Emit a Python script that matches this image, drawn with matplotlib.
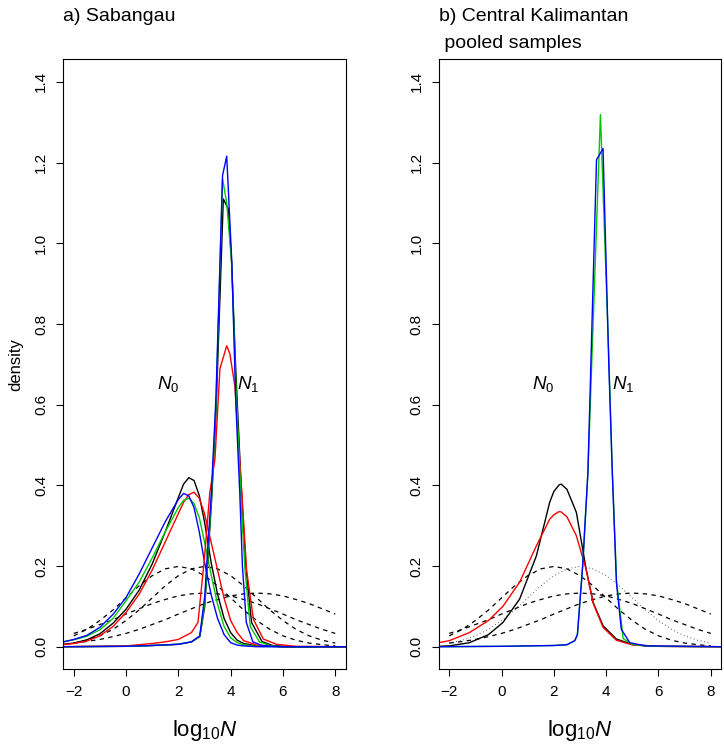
import matplotlib
matplotlib.use("Agg")
import matplotlib.pyplot as plt

plt.rcParams['font.family'] = ['Liberation Sans', 'DejaVu Sans']
plt.rcParams['mathtext.fontset'] = 'custom'
plt.rcParams['mathtext.rm'] = 'Liberation Sans'
plt.rcParams['mathtext.it'] = 'Liberation Sans:italic'

## prior densities (dashed), read at 0.5 steps
prior_x = [-2, -1.5, -1, -0.5, 0, 0.5, 1, 1.5, 2, 2.5, 3, 3.5, 4, 4.5, 5, 5.5, 6, 6.5, 7, 7.5, 8]
prior_a = [0.027, 0.043, 0.065, 0.091, 0.121, 0.151, 0.176, 0.193, 0.199, 0.193, 0.176,
           0.151, 0.121, 0.091, 0.065, 0.043, 0.027, 0.016, 0.009, 0.005, 0.002]
prior_b = [0.009, 0.016, 0.027, 0.043, 0.065, 0.091, 0.121, 0.151, 0.176, 0.193, 0.199,
           0.193, 0.176, 0.151, 0.121, 0.091, 0.065, 0.043, 0.027, 0.016, 0.009]
prior_c = [0.033, 0.043, 0.055, 0.067, 0.081, 0.094, 0.107, 0.117, 0.126, 0.131, 0.133,
           0.131, 0.126, 0.117, 0.107, 0.094, 0.081, 0.067, 0.055, 0.043, 0.033]
prior_d = [0.009, 0.013, 0.018, 0.025, 0.033, 0.043, 0.055, 0.067, 0.081, 0.094, 0.107,
           0.117, 0.126, 0.131, 0.133, 0.131, 0.126, 0.117, 0.107, 0.094, 0.081]

## a) Sabangau, N0 posteriors
n0_x = [-2.4, -2, -1.5, -1, -0.5, 0, 0.5, 1, 1.5, 2, 2.2, 2.4, 2.6, 2.8, 3, 3.25, 3.5, 3.75, 4,
        4.25, 4.5, 5, 6, 8.4]
a_n0_black = [0.006, 0.009, 0.017, 0.032, 0.058, 0.093, 0.14, 0.205, 0.285, 0.37, 0.403, 0.419,
              0.412, 0.375, 0.31, 0.21, 0.13, 0.07, 0.035, 0.016, 0.008, 0.002, 0.0, 0.0]
a_n0_red = [0.005, 0.008, 0.014, 0.027, 0.05, 0.085, 0.13, 0.19, 0.26, 0.33, 0.358, 0.377,
            0.383, 0.368, 0.33, 0.26, 0.19, 0.12, 0.065, 0.035, 0.015, 0.004, 0.0, 0.0]
a_n0_green = [0.012, 0.017, 0.026, 0.042, 0.07, 0.114, 0.16, 0.22, 0.285, 0.345, 0.363, 0.368,
              0.355, 0.32, 0.26, 0.18, 0.105, 0.05, 0.022, 0.01, 0.005, 0.001, 0.0, 0.0]
a_n0_blue = [0.012, 0.018, 0.028, 0.048, 0.08, 0.122, 0.18, 0.245, 0.31, 0.365, 0.38, 0.374,
             0.345, 0.285, 0.21, 0.13, 0.07, 0.03, 0.01, 0.004, 0.002, 0.0, 0.0, 0.0]

## a) Sabangau, N1 posteriors
a_n1_blue_x = [-2.4, 0, 1, 2, 2.5, 2.82, 3.01, 3.27, 3.44, 3.69, 3.85, 4.04, 4.2, 4.35, 4.45,
               4.6, 4.85, 5.2, 6, 8.4]
a_n1_blue = [0.0, 0.001, 0.003, 0.006, 0.012, 0.027, 0.126, 0.39, 0.62, 1.168, 1.216, 0.96,
             0.6, 0.38, 0.2, 0.06, 0.012, 0.003, 0.0, 0.0]
a_n1_green_x = [-2.4, 0, 1, 2, 2.5, 2.82, 3.01, 3.27, 3.44, 3.69, 3.85, 4.04, 4.2, 4.4, 4.55,
                4.75, 5.1, 5.5, 6, 8.4]
a_n1_green = [0.0, 0.001, 0.003, 0.006, 0.012, 0.025, 0.11, 0.37, 0.6, 1.16, 1.1, 0.95,
              0.65, 0.36, 0.19, 0.05, 0.012, 0.003, 0.0, 0.0]
a_n1_black_x = [-2.4, 0, 1, 2, 2.5, 2.82, 3.01, 3.27, 3.44, 3.72, 3.91, 4.04, 4.2, 4.4, 4.58,
                4.8, 5.2, 5.6, 6.2, 8.4]
a_n1_black = [0.0, 0.001, 0.003, 0.006, 0.012, 0.025, 0.1, 0.36, 0.58, 1.11, 1.085, 0.95,
              0.68, 0.4, 0.2, 0.06, 0.013, 0.003, 0.0, 0.0]
a_n1_red_x = [-2.4, 0, 1, 1.5, 2, 2.5, 2.75, 3.0, 3.2, 3.4, 3.59, 3.85, 3.97, 4.16, 4.42,
              4.61, 4.87, 5.25, 5.75, 6.5, 8.4]
a_n1_red = [0.0, 0.002, 0.008, 0.012, 0.018, 0.035, 0.06, 0.22, 0.38, 0.465, 0.689, 0.746,
            0.726, 0.647, 0.39, 0.19, 0.068, 0.019, 0.006, 0.001, 0.0]

## b) Central Kalimantan pooled, N0 posteriors
b_n0_x = [-2.4, -2, -1.23, -0.5, 0.05, 0.69, 1.33, 1.84, 2.0, 2.2, 2.28, 2.5, 2.86, 3.24,
          3.5, 3.88, 4.39, 5.03, 6, 8.4]
b_n0_black = [0.001, 0.002, 0.01, 0.03, 0.06, 0.118, 0.225, 0.358, 0.385, 0.401, 0.403, 0.39,
              0.333, 0.19, 0.11, 0.052, 0.019, 0.005, 0.001, 0.0]
b_n0_red = [0.01, 0.015, 0.035, 0.065, 0.1, 0.16, 0.25, 0.316, 0.327, 0.335, 0.334, 0.322,
            0.275, 0.19, 0.108, 0.048, 0.016, 0.004, 0.001, 0.0]

## b) N1 posteriors
b_n1_blue_x = [-2.4, 0, 2, 2.5, 2.8, 2.9, 3.1, 3.3, 3.63, 3.88, 4.1, 4.23, 4.39, 4.58, 4.9,
               5.5, 8.4]
b_n1_blue = [0.0, 0.001, 0.003, 0.005, 0.015, 0.03, 0.2, 0.43, 1.207, 1.235, 0.7, 0.44,
             0.16, 0.043, 0.01, 0.002, 0.0]
b_n1_green_x = [-2.4, 0, 2, 2.5, 2.8, 2.9, 3.1, 3.3, 3.78, 4.1, 4.23, 4.4, 4.65, 5.0, 5.6,
                8.4]
b_n1_green = [0.0, 0.001, 0.003, 0.005, 0.015, 0.03, 0.2, 0.43, 1.319, 0.72, 0.44, 0.16,
              0.02, 0.006, 0.001, 0.0]

green_col = '#00C800'
AX_H = 610.0  # axes height in pixels


def style_axis(ax, title_lines):
    ax.set_xlim(-2.4, 8.4)
    ax.set_ylim(-0.056, 1.456)
    ax.set_xticks([-2, 0, 2, 4, 6, 8])
    ax.set_yticks([0.0, 0.2, 0.4, 0.6, 0.8, 1.0, 1.2, 1.4])
    ax.set_yticklabels(['0.0', '0.2', '0.4', '0.6', '0.8', '1.0', '1.2', '1.4'],
                       rotation=90, va='center')
    ax.tick_params(direction='out', length=5, width=0.8, labelsize=11, pad=6)
    for s in ax.spines.values():
        s.set_linewidth(0.8)
    ax.set_xlabel(r'$\mathregular{log}_{10}\mathit{N}$', fontsize=16, labelpad=14)
    for i, line in enumerate(title_lines):
        ax.text(0.0, 1.0 + (38.5 - 27 * i) / AX_H, line, transform=ax.transAxes,
                fontsize=14, ha='left', va='baseline')
    ax.text(1.6, 0.65, r'$\mathit{N}_0$', fontsize=13.5, ha='center', va='center')
    ax.text(4.66, 0.65, r'$\mathit{N}_1$', fontsize=13.5, ha='center', va='center')


def draw_priors(ax, dotted_b=False):
    kw = dict(color='black', lw=0.9, dashes=(3.5, 3.5))
    ax.plot(prior_x, prior_a, **kw)
    if dotted_b:
        ax.plot(prior_x, prior_b, color='#606060', lw=0.8, dashes=(0.8, 2.4))
    else:
        ax.plot(prior_x, prior_b, **kw)
    ax.plot(prior_x, prior_c, **kw)
    ax.plot(prior_x, prior_d, **kw)


def main():
    fig = plt.figure(figsize=(7.24, 7.49), dpi=100)
    ax1 = fig.add_axes([0.0874, 0.1064, 0.3901, 0.8144])
    ax2 = fig.add_axes([0.6061, 0.1064, 0.3901, 0.8144])

    draw_priors(ax1)
    lw = 1.0
    ax1.plot(n0_x, a_n0_black, color='black', lw=lw)
    ax1.plot(n0_x, a_n0_red, color='red', lw=lw)
    ax1.plot(n0_x, a_n0_green, color=green_col, lw=lw)
    ax1.plot(n0_x, a_n0_blue, color='blue', lw=lw)
    ax1.plot(a_n1_black_x, a_n1_black, color='black', lw=lw)
    ax1.plot(a_n1_red_x, a_n1_red, color='red', lw=lw)
    ax1.plot(a_n1_green_x, a_n1_green, color=green_col, lw=lw)
    ax1.plot(a_n1_blue_x, a_n1_blue, color='blue', lw=lw)
    ax1.set_ylabel('density', fontsize=12, labelpad=8)
    style_axis(ax1, ['a) Sabangau'])

    draw_priors(ax2, dotted_b=True)
    ax2.plot(b_n0_x, b_n0_black, color='black', lw=lw)
    ax2.plot(b_n0_x, b_n0_red, color='red', lw=lw)
    ax2.plot(b_n1_green_x, b_n1_green, color=green_col, lw=lw)
    ax2.plot(b_n1_blue_x, b_n1_blue, color='blue', lw=lw)
    style_axis(ax2, ['b) Central Kalimantan', ' pooled samples'])

    fig.savefig('out.png', dpi=100)


if __name__ == '__main__':
    main()
